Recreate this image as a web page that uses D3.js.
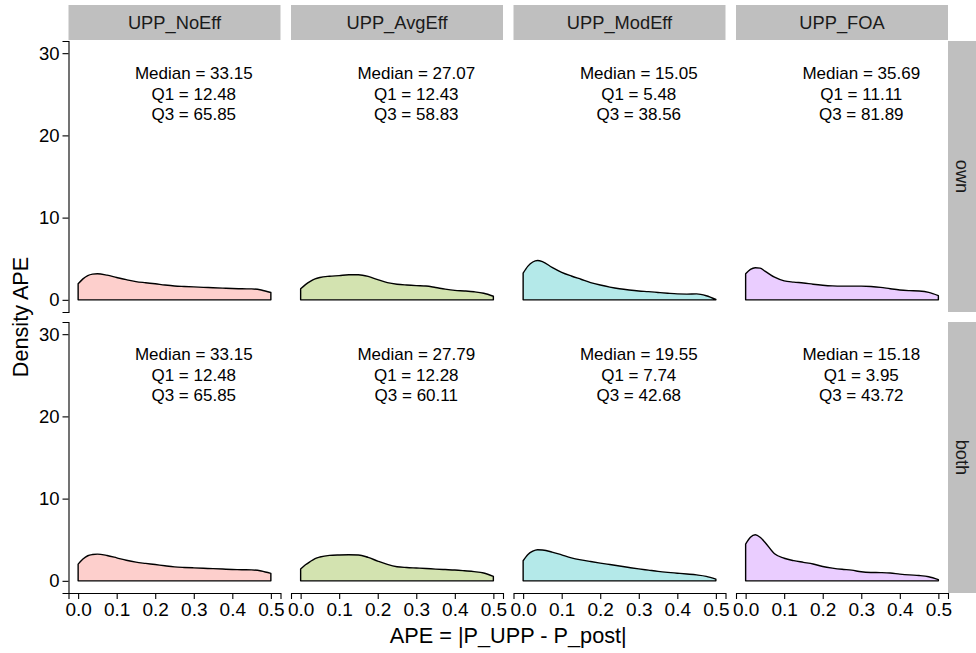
<!DOCTYPE html>
<html>
<head>
<meta charset="utf-8">
<script src="https://cdn.jsdelivr.net/npm/d3@7"></script>
<style>
  html, body { margin: 0; padding: 0; background: #fff; }
  svg { display: block; font-family: "Liberation Sans", Arial, Helvetica, sans-serif; }
</style>
</head>
<body>
<svg id="chart" width="976" height="653"></svg>
<script>
// ---- data ----
const methods = ["UPP_NoEff", "UPP_AvgEff", "UPP_ModEff", "UPP_FOA"];
const rows = ["own", "both"];
const xGrid = [0, 0.0125, 0.025, 0.0375, 0.05, 0.075, 0.1, 0.125, 0.15, 0.175, 0.2, 0.225,
               0.25, 0.275, 0.3, 0.325, 0.35, 0.375, 0.4, 0.425, 0.45, 0.475, 0.5];
const xTicks = [0, 0.1, 0.2, 0.3, 0.4, 0.5];
const yTicks = [0, 10, 20, 30];

// density values on xGrid
const densOwnNoEff  = [1.95, 2.55, 2.95, 3.12, 3.17, 3.0, 2.72, 2.45, 2.22, 2.08, 1.95, 1.8, 1.68, 1.62, 1.57, 1.52, 1.47, 1.42, 1.37, 1.34, 1.33, 1.2, 0.89];
const densOwnAvgEff = [1.34, 1.85, 2.25, 2.55, 2.72, 2.87, 2.95, 3.05, 3.05, 2.85, 2.45, 2.1, 1.9, 1.8, 1.73, 1.68, 1.5, 1.3, 1.15, 1.08, 0.98, 0.8, 0.44];
const densOwnModEff = [3.24, 4.1, 4.6, 4.78, 4.65, 3.95, 3.35, 2.9, 2.5, 2.1, 1.8, 1.55, 1.35, 1.2, 1.08, 1.0, 0.9, 0.8, 0.72, 0.7, 0.72, 0.5, 0.05];
const densOwnFOA    = [3.17, 3.7, 3.9, 3.85, 3.5, 2.75, 2.3, 2.15, 2.05, 1.9, 1.78, 1.7, 1.67, 1.67, 1.67, 1.62, 1.52, 1.35, 1.2, 1.12, 1.07, 0.9, 0.5];

const densBothNoEff  = [2.03, 2.65, 3.05, 3.2, 3.25, 3.08, 2.8, 2.5, 2.27, 2.12, 1.98, 1.83, 1.7, 1.63, 1.58, 1.53, 1.48, 1.43, 1.38, 1.35, 1.33, 1.2, 0.9];
const densBothAvgEff = [1.43, 1.95, 2.35, 2.7, 2.9, 3.1, 3.15, 3.17, 3.15, 2.85, 2.4, 2.0, 1.72, 1.62, 1.56, 1.5, 1.43, 1.37, 1.31, 1.22, 1.12, 0.95, 0.53];
const densBothModEff = [2.44, 3.2, 3.6, 3.78, 3.75, 3.5, 3.15, 2.8, 2.55, 2.35, 2.16, 1.98, 1.8, 1.62, 1.45, 1.3, 1.15, 1.03, 0.93, 0.83, 0.72, 0.55, 0.21];
const densBothFOA    = [4.47, 5.3, 5.6, 5.3, 4.7, 3.3, 2.75, 2.45, 2.25, 2.05, 1.75, 1.55, 1.4, 1.3, 1.1, 1.02, 1.0, 0.95, 0.82, 0.72, 0.65, 0.5, 0.15];

const densities = [
  [densOwnNoEff, densOwnAvgEff, densOwnModEff, densOwnFOA],
  [densBothNoEff, densBothAvgEff, densBothModEff, densBothFOA]
];

const medOwn  = ["33.15", "27.07", "15.05", "35.69"];
const q1Own   = ["12.48", "12.43", "5.48", "11.11"];
const q3Own   = ["65.85", "58.83", "38.56", "81.89"];
const medBoth = ["33.15", "27.79", "19.55", "15.18"];
const q1Both  = ["12.48", "12.28", "7.74", "3.95"];
const q3Both  = ["65.85", "60.11", "42.68", "43.72"];
const medians = [medOwn, medBoth], q1s = [q1Own, q1Both], q3s = [q3Own, q3Both];

const labelX = 0.3, labelY = 25;

// ---- layout ----
const fills = ["#FDCFCC", "#D3E3B0", "#B4E9E9", "#EACDFF"];
const panelLefts = [68.5, 291, 513.5, 736];
const panelW = 212;
const rowTops = [41, 322];
const panelH = 271;
const stripTop = 5, stripH = 35;
const rStripX = 948, rStripW = 28;
const stripFill = "#BFBFBF";

const svg = d3.select("#chart");

rows.forEach((rowName, ri) => {
  const y = d3.scaleLinear().domain([-1.48, 31.48]).range([rowTops[ri] + panelH, rowTops[ri]]);
  methods.forEach((m, ci) => {
    const x = d3.scaleLinear().domain([-0.025, 0.525]).range([panelLefts[ci], panelLefts[ci] + panelW]);
    const g = svg.append("g");
    const pts = xGrid.map((xv, i) => [xv, densities[ri][ci][i]]);
    const line = d3.line().x(d => x(d[0])).y(d => y(d[1])).curve(d3.curveMonotoneX);
    const top = line(pts);
    const path = top + `L${x(0.5)},${y(0)}L${x(0)},${y(0)}Z`;
    g.append("path").attr("d", path)
      .attr("fill", fills[ci]).attr("stroke", "#000").attr("stroke-width", 1.4)
      .attr("stroke-linejoin", "round");

    const lines = ["Median = " + medians[ri][ci], "Q1 = " + q1s[ri][ci], "Q3 = " + q3s[ri][ci]];
    lines.forEach((t, li) => {
      g.append("text").attr("x", x(labelX)).attr("y", y(labelY) + (li - 1) * 20.5)
        .attr("text-anchor", "middle").attr("dominant-baseline", "central")
        .attr("font-size", 17).attr("fill", "#000").text(t);
    });

    // top strips (first row only)
    if (ri === 0) {
      svg.append("rect").attr("x", panelLefts[ci]).attr("y", stripTop)
        .attr("width", panelW).attr("height", stripH).attr("fill", stripFill);
      svg.append("text").attr("x", panelLefts[ci] + panelW / 2).attr("y", stripTop + stripH / 2)
        .attr("text-anchor", "middle").attr("dominant-baseline", "central")
        .attr("font-size", 18.3).attr("fill", "#1a1a1a").text(m);
    }

    // x axis for bottom row
    if (ri === rows.length - 1) {
      const ax = svg.append("g").attr("transform", `translate(0,${rowTops[ri] + panelH})`)
        .call(d3.axisBottom(x).tickValues(xTicks).tickFormat(d3.format(".1f")).tickSizeOuter(0).tickSize(6).tickPadding(4));
      ax.select(".domain").attr("stroke", "#000").attr("stroke-width", 1.1);
      ax.selectAll(".tick line").attr("stroke", "#000").attr("stroke-width", 1.1);
      ax.selectAll(".tick text").attr("font-size", 19).attr("fill", "#000")
        .attr("font-family", "Liberation Sans, Arial, sans-serif");
    }
  });

  // y axis on left column
  const ay = svg.append("g").attr("transform", `translate(${panelLefts[0]},0)`)
    .call(d3.axisLeft(y).tickValues(yTicks).tickSizeOuter(0).tickSize(6).tickPadding(3));
  ay.select(".domain").attr("stroke", "#000").attr("stroke-width", 1.1);
  ay.selectAll(".tick line").attr("stroke", "#000").attr("stroke-width", 1.1);
  ay.selectAll(".tick text").attr("font-size", 18.5).attr("fill", "#000")
    .attr("font-family", "Liberation Sans, Arial, sans-serif");

  // right strip
  svg.append("rect").attr("x", rStripX).attr("y", rowTops[ri])
    .attr("width", rStripW).attr("height", panelH).attr("fill", stripFill);
  svg.append("text")
    .attr("transform", `translate(${rStripX + rStripW / 2},${rowTops[ri] + panelH / 2}) rotate(90)`)
    .attr("text-anchor", "middle").attr("dominant-baseline", "central")
    .attr("font-size", 18.3).attr("fill", "#1a1a1a").text(rowName);
});

// axis titles
svg.append("text").attr("x", (panelLefts[0] + rStripX) / 2).attr("y", 635)
  .attr("text-anchor", "middle").attr("dominant-baseline", "central")
  .attr("font-size", 21.7).attr("fill", "#000").text("APE = |P_UPP - P_post|");
svg.append("text")
  .attr("transform", `translate(20,${(rowTops[0] + rowTops[1] + panelH) / 2}) rotate(-90)`)
  .attr("text-anchor", "middle").attr("dominant-baseline", "central")
  .attr("font-size", 21.7).attr("fill", "#000").text("Density APE");
</script>
</body>
</html>
